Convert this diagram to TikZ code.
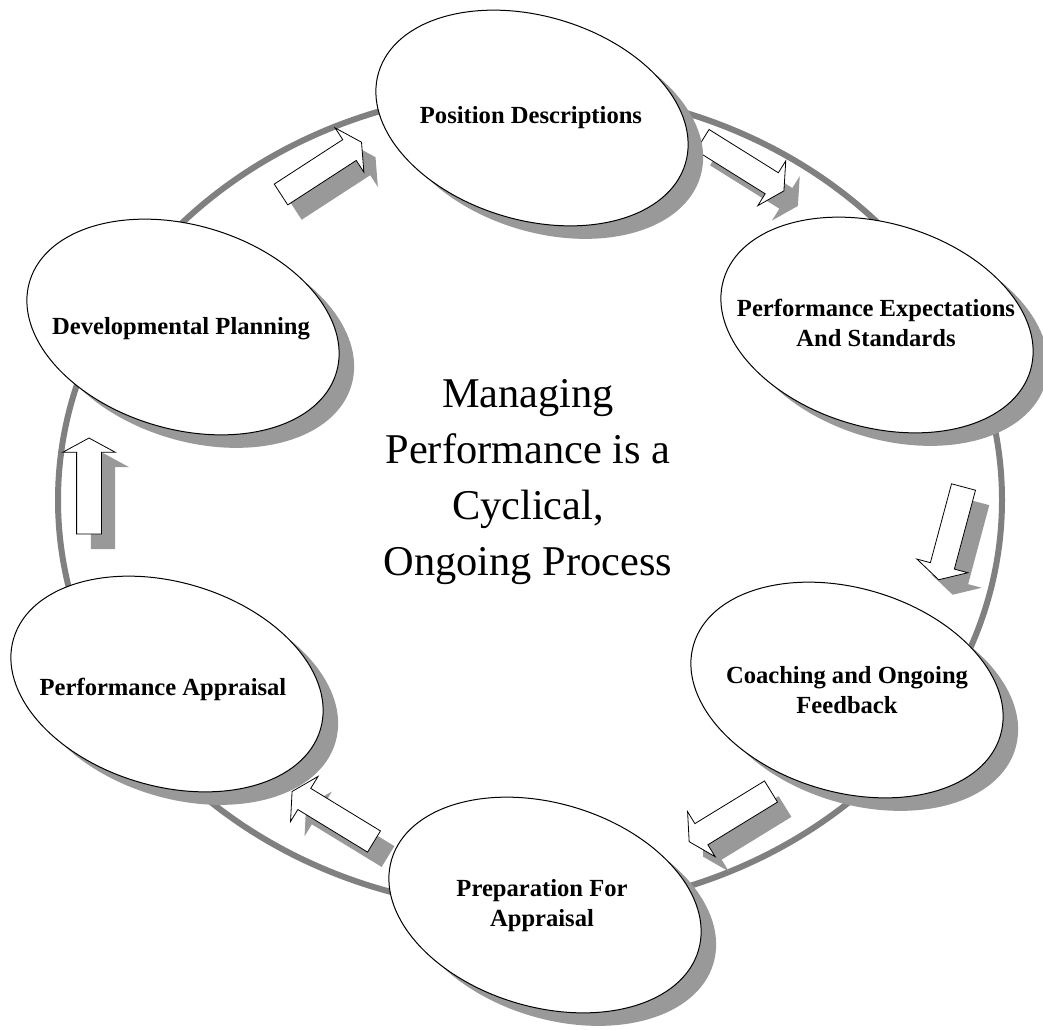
\documentclass[tikz,border=0pt]{standalone}
\usepackage{fontspec}
\setmainfont{Liberation Serif}
\usetikzlibrary{shapes.geometric,shapes.arrows}
\definecolor{ringgray}{HTML}{808080}
\definecolor{shadowgray}{HTML}{999999}
\begin{document}
\begin{tikzpicture}[x=1pt,y=-1pt,
  ring/.style={draw=ringgray, line width=6pt},
  bubbleshape/.style={ellipse, minimum width=320pt, minimum height=204pt, inner sep=0pt, rotate=-16.5},
  bubble/.style={bubbleshape, draw=black, line width=1pt, fill=white},
  bubbleshadow/.style={bubbleshape, fill=shadowgray},
  label/.style={font=\fontsize{24.6}{30}\selectfont\bfseries, align=center, inner sep=0pt},
  arrowshape/.style={single arrow, anchor=tail, minimum height=96pt, inner xsep=0pt, inner ysep=12pt,
    single arrow head extend=14pt, single arrow tip angle=123, single arrow head indent=0pt, outer sep=0pt},
  blockarrow/.style={arrowshape, draw=black, line width=0.8pt, fill=white},
  arrowshadow/.style={arrowshape, fill=shadowgray}
]
\useasboundingbox (0,0) rectangle (1043,1029);
\fill[white] (0,0) rectangle (1043,1029);

% outer ring
\draw[ring] (530,500) ellipse (472pt and 410pt);

% arrow shadows
\node[arrowshadow, rotate=33]    (sa) at (295,209.5) {};
\node[arrowshadow, rotate=-32]   (sb) at (716.5,155) {};
\node[arrowshadow, rotate=-105]  (sc) at (977.5,502) {};
\node[arrowshadow, rotate=211.5] (sd) at (785,806.5) {};
\node[arrowshadow, rotate=148.6] (se) at (388,856.5) {};
\node[arrowshadow, rotate=90]    (sf) at (103,549) {};

% arrows
\node[blockarrow, rotate=33]    (aa) at (281,194.5) {};
\node[blockarrow, rotate=-32]   (ab) at (702.5,140) {};
\node[blockarrow, rotate=-105]  (ac) at (963.5,487) {};
\node[blockarrow, rotate=211.5] (ad) at (771,791.5) {};
\node[blockarrow, rotate=148.6] (ae) at (374,841.5) {};
\node[blockarrow, rotate=90]    (af) at (89,534) {};

% bubble shadows
\node[bubbleshadow] (s1) at (547,131) {};
\node[bubbleshadow] (s2) at (892,338) {};
\node[bubbleshadow] (s3) at (862,703) {};
\node[bubbleshadow] (s4) at (560,918) {};
\node[bubbleshadow] (s5) at (182,697) {};
\node[bubbleshadow] (s6) at (198,340) {};

% bubbles
\node[bubble] (e1) at (532,118) {};
\node[bubble] (e2) at (877,325) {};
\node[bubble] (e3) at (847,690) {};
\node[bubble] (e4) at (545,905) {};
\node[bubble] (e5) at (167,684) {};
\node[bubble] (e6) at (183,327) {};

% labels
\node[label] (t1) at (531,118) {Position Descriptions};
\node[label] (t2) at (876,323) {Performance Expectations\\And Standards};
\node[label] (t3) at (847,690) {Coaching and Ongoing\\Feedback};
\node[label] (t4) at (542,906) {Preparation For\\Appraisal};
\node[label] (t5) at (163,689) {Performance Appraisal};
\node[label] (t6) at (181,329) {Developmental Planning};

% centre text
\node[font=\fontsize{42.4}{56}\selectfont, align=center, inner sep=0pt] (ctr) at (528,482)
  {Managing\\Performance is a\\Cyclical,\\Ongoing Process};
\end{tikzpicture}
\end{document}
